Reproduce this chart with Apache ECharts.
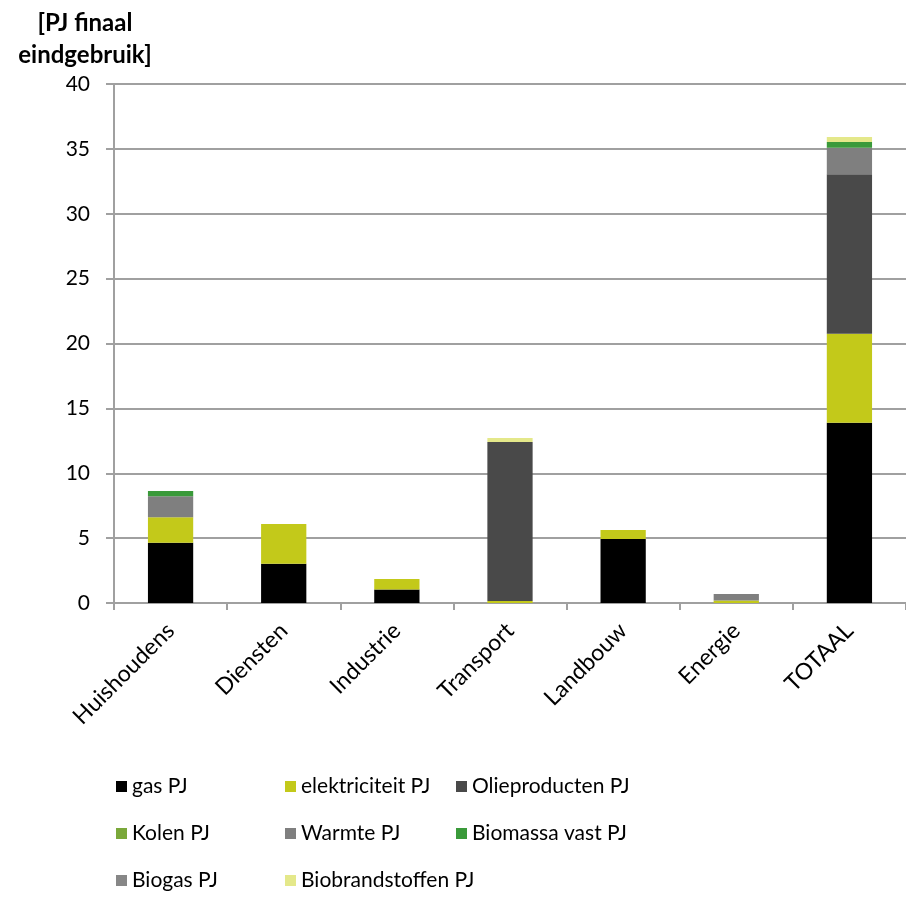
<!DOCTYPE html>
<html>
<head>
<meta charset="utf-8">
<script src="https://cdn.jsdelivr.net/npm/echarts@6/dist/echarts.min.js"></script>
<style>
  html, body { margin: 0; padding: 0; background: #fff; }
  #chart { width: 906px; height: 897px; }
</style>
</head>
<body>
<div id="chart"></div>
<script>
// categories on the x axis
const categories = ['Huishoudens', 'Diensten', 'Industrie', 'Transport', 'Landbouw', 'Energie', 'TOTAAL']

// PJ per energy carrier, one value per category
const gas = [4.65, 3.03, 1.05, 0, 4.93, 0, 13.9]
const elektriciteit = [1.95, 3.06, 0.8, 0.15, 0.7, 0.2, 6.86]
const olieproducten = [0, 0, 0, 12.25, 0, 0, 12.28]
const kolen = [0, 0, 0, 0, 0, 0, 0]
const warmte = [1.62, 0, 0, 0, 0, 0.49, 2.05]
const biomassaVast = [0.41, 0, 0, 0, 0, 0, 0.44]
const biogas = [0, 0, 0, 0, 0, 0, 0]
const biobrandstoffen = [0, 0, 0, 0.31, 0, 0, 0.39]

const font = 'Lato'

const chart = echarts.init(document.getElementById('chart'))

function bar(name, data, color) {
  return {
    name: name,
    type: 'bar',
    stack: 'totaal',
    barWidth: '40%',
    data: data,
    itemStyle: { color: color },
    animation: false
  }
}

function legendCol(left, names) {
  return {
    orient: 'vertical',
    left: left,
    top: 776,
    padding: 0,
    itemWidth: 11,
    itemHeight: 11,
    itemGap: 26,
    icon: 'rect',
    data: names,
    textStyle: { fontFamily: font, fontSize: 21, lineHeight: 21, color: '#000' }
  }
}

chart.setOption({
  title: {
    text: '[PJ finaal\neindgebruik]',
    left: 80,
    top: 2,
    textAlign: 'center',
    textStyle: { fontFamily: font, fontSize: 24, fontWeight: 'bold', color: '#000', lineHeight: 32 }
  },
  grid: {
    left: 114,
    right: 0,
    top: 84,
    bottom: 294
  },
  legend: [
    legendCol(116, ['gas PJ', 'Kolen PJ', 'Biogas PJ']),
    legendCol(285, ['elektriciteit PJ', 'Warmte PJ', 'Biobrandstoffen PJ']),
    legendCol(456, ['Olieproducten PJ', 'Biomassa vast PJ'])
  ],
  xAxis: {
    type: 'category',
    data: categories,
    axisLine: { lineStyle: { color: '#a0a0a0', width: 2 } },
    axisTick: { show: true, length: 7, lineStyle: { color: '#a0a0a0', width: 2 } },
    axisLabel: {
      rotate: 45,
      margin: 24,
      fontFamily: font,
      fontSize: 23,
      color: '#000'
    }
  },
  yAxis: {
    type: 'value',
    min: 0,
    max: 40,
    interval: 5,
    axisLine: { show: true, lineStyle: { color: '#a0a0a0', width: 2 } },
    axisTick: { show: true, inside: false, length: 8, lineStyle: { color: '#a0a0a0', width: 2 } },
    splitLine: { lineStyle: { color: '#a0a0a0', width: 2 } },
    axisLabel: {
      margin: 24,
      fontFamily: font,
      fontSize: 21,
      color: '#000'
    }
  },
  series: [
    bar('gas PJ', gas, '#000000'),
    bar('elektriciteit PJ', elektriciteit, '#c3c91a'),
    bar('Olieproducten PJ', olieproducten, '#494949'),
    bar('Kolen PJ', kolen, '#7aa83a'),
    bar('Warmte PJ', warmte, '#7f7f7f'),
    bar('Biomassa vast PJ', biomassaVast, '#3a9a3a'),
    bar('Biogas PJ', biogas, '#878787'),
    bar('Biobrandstoffen PJ', biobrandstoffen, '#e4e88a')
  ]
})
</script>
</body>
</html>
